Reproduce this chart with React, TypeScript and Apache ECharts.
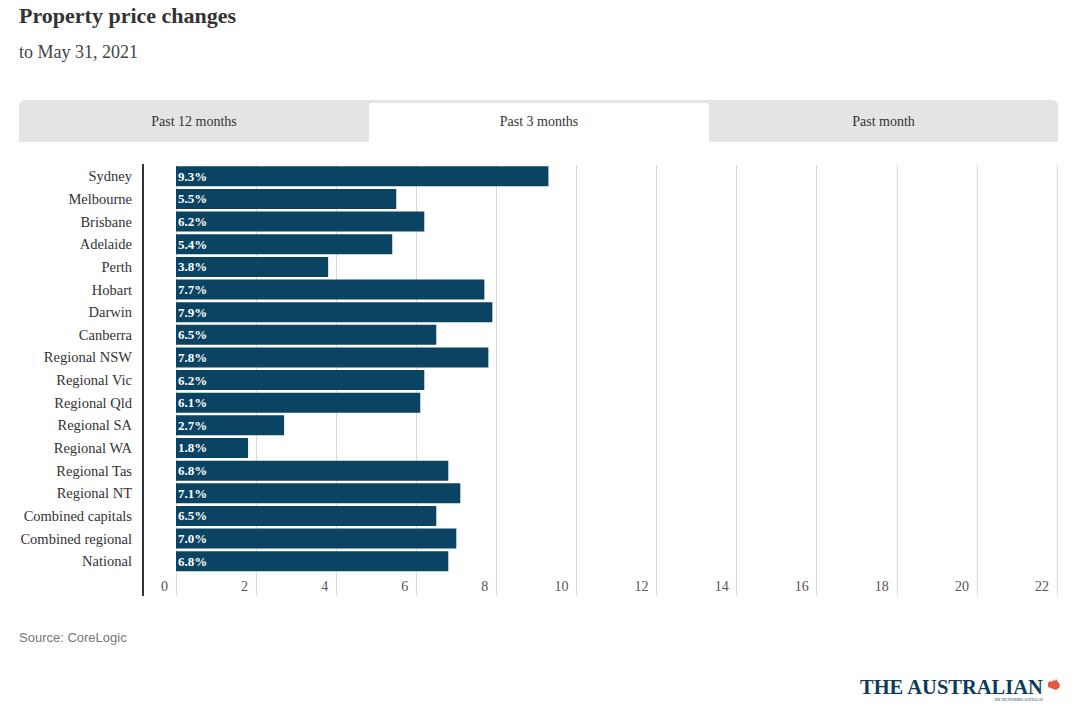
import React, { useEffect, useRef } from "react";
import * as echarts from "echarts";

const categories = [
  "Sydney", "Melbourne", "Brisbane", "Adelaide", "Perth", "Hobart", "Darwin", "Canberra",
  "Regional NSW", "Regional Vic", "Regional Qld", "Regional SA", "Regional WA", "Regional Tas",
  "Regional NT", "Combined capitals", "Combined regional", "National",
];
const values = [9.3, 5.5, 6.2, 5.4, 3.8, 7.7, 7.9, 6.5, 7.8, 6.2, 6.1, 2.7, 1.8, 6.8, 7.1, 6.5, 7.0, 6.8];
const tabs = ["Past 12 months", "Past 3 months", "Past month"];
const title = "Property price changes";
const subtitle = "to May 31, 2021";
const source = "Source: CoreLogic";

const SERIF = "'Liberation Serif', 'DejaVu Serif', serif";
const GRID_COLOR = "#dcd9d2";

export default function App() {
  const ref = useRef<HTMLDivElement>(null);
  useEffect(() => {
    if (!ref.current) return;
    const chart = echarts.init(ref.current, undefined, { renderer: "svg" });
    const tabW = [350, 340, 349];
    const tabX = [19, 369, 709];
    chart.setOption({
      animation: false,
      backgroundColor: "#fff",
      grid: { left: 176, right: 23, top: 165, bottom: 134.5, containLabel: false },
      xAxis: {
        type: "value",
        min: 0,
        max: 22,
        interval: 2,
        axisLine: { show: false },
        axisTick: { show: true, length: 23, lineStyle: { color: GRID_COLOR, width: 1 } },
        splitLine: { show: true, lineStyle: { color: GRID_COLOR, width: 1 } },
        axisLabel: {
          show: true,
          align: "right",
          padding: [0, 8, 0, 0],
          margin: 7,
          fontFamily: SERIF,
          fontSize: 14,
          color: "#555",
        },
      },
      yAxis: {
        type: "category",
        inverse: true,
        data: categories,
        axisLine: { show: false },
        axisTick: { show: false },
        axisLabel: { margin: 44, fontFamily: SERIF, fontSize: 14.5, color: "#333" },
      },
      series: [
        {
          type: "bar",
          data: values,
          barWidth: 20,
          itemStyle: { color: "#0b4462" },
          label: {
            show: true,
            position: "insideLeft",
            distance: 2,
            formatter: (p: any) => Number(p.value).toFixed(1) + "%",
            color: "#fff",
            fontWeight: "bold",
            fontSize: 13,
            fontFamily: SERIF,
          },
        },
      ],
      graphic: [
        {
          type: "text",
          left: 19,
          top: 4,
          style: { text: title, font: `bold 22px ${SERIF}`, fill: "#333" },
        },
        {
          type: "text",
          left: 19,
          top: 43,
          style: { text: subtitle, font: `18px ${SERIF}`, fill: "#444" },
        },
        {
          type: "rect",
          shape: { x: 19, y: 100, width: 1039, height: 42, r: [6, 6, 0, 0] },
          style: { fill: "#e4e4e4" },
        },
        {
          type: "rect",
          shape: { x: 369, y: 103, width: 340, height: 39, r: [3, 3, 0, 0] },
          style: { fill: "#fff" },
        },
        ...tabs.map((t, i) => ({
          type: "text",
          x: tabX[i] + tabW[i] / 2,
          y: 121,
          style: {
            text: t,
            font: `14px ${SERIF}`,
            fill: "#333",
            align: "center",
            verticalAlign: "middle",
          },
        })),
        {
          type: "line",
          shape: { x1: 143, y1: 164, x2: 143, y2: 596 },
          style: { stroke: "#333", lineWidth: 2 },
        },
        {
          type: "text",
          left: 19,
          top: 631,
          style: { text: source, font: "13px 'Liberation Sans', Arial, sans-serif", fill: "#777" },
        },
        {
          type: "text",
          x: 860,
          y: 687,
          style: {
            text: "THE AUSTRALIAN",
            font: `bold 20.5px ${SERIF}`,
            fill: "#0d3b5a",
            verticalAlign: "middle",
          },
        },
        {
          type: "text",
          x: 1043,
          y: 700,
          style: {
            text: "FOR THE INFORMED AUSTRALIAN",
            font: `3px ${SERIF}`,
            fill: "#0d3b5a",
            align: "right",
            verticalAlign: "middle",
          },
        },
        {
          type: "polygon",
          shape: {
            points: [
              [1048, 683], [1050, 681], [1052, 682], [1053, 680], [1055, 681], [1056, 679],
              [1058, 682], [1060, 685], [1059, 688], [1056, 690], [1053, 689], [1051, 688], [1048, 687],
            ],
          },
          style: { fill: "#e8553e" },
        },
      ],
    });
    return () => chart.dispose();
  }, []);
  return (
    <div
      ref={ref}
      style={{ position: "absolute", left: 0, top: 0, width: 1080, height: 707 }}
    />
  );
}
